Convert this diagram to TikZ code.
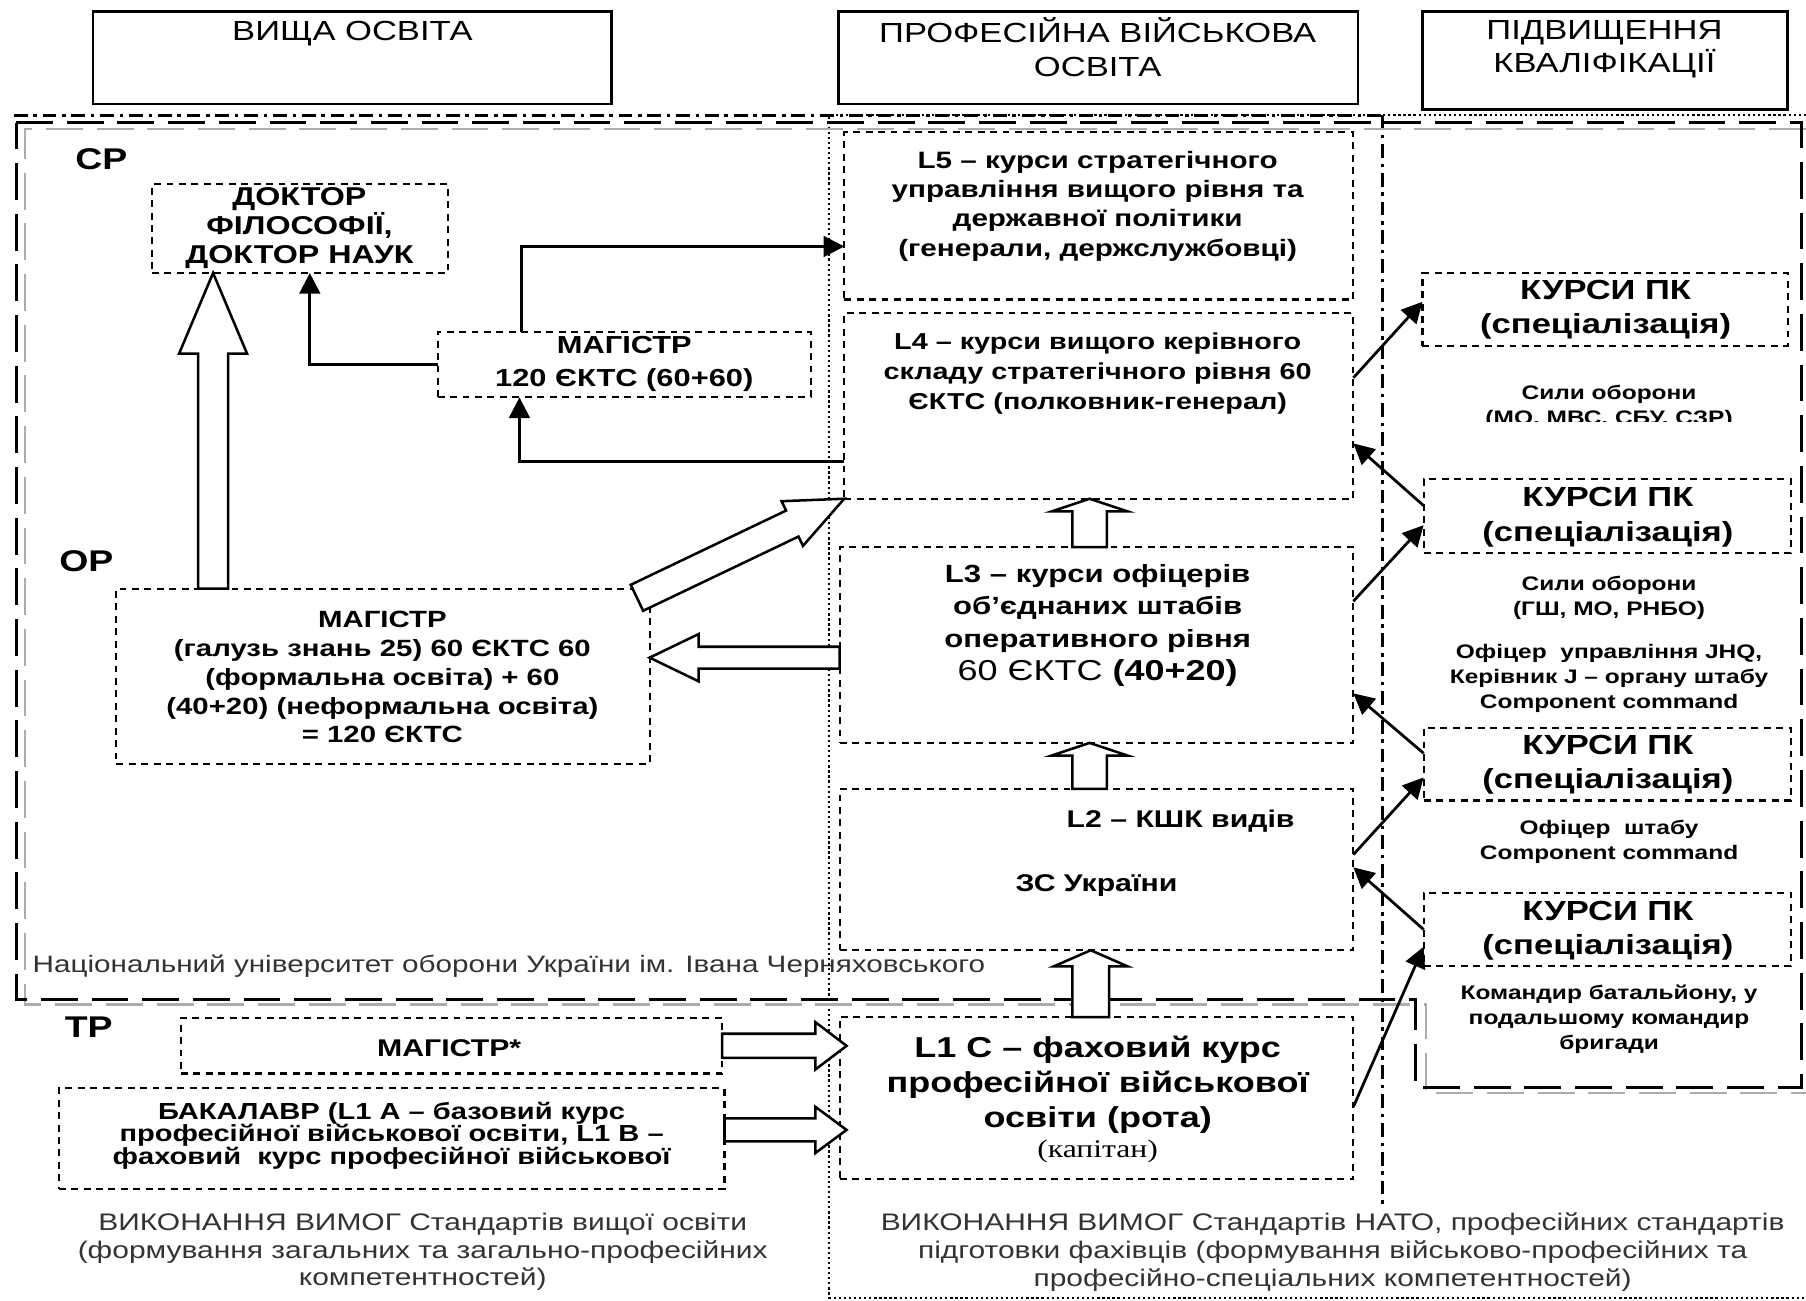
\documentclass[tikz,border=0pt]{standalone}
\usepackage{fontspec}
\setmainfont{Liberation Sans}[FakeStretch=1.25]
\newfontfamily\tnr{Liberation Serif}[FakeStretch=1.25]
\usetikzlibrary{fit,calc,arrows.meta}
\newcommand\fs[2]{\fontsize{#1}{#2}\selectfont}
% #2 start, #3 tip, #4 shaft half-width, #5 head half-width, #6 head length
\newcommand\hollowarrow[6][]{%
  \coordinate (ha) at (#2);
  \coordinate (hbt) at (#3);
  \coordinate (hh) at ($(hbt)!#6!(ha)$);
  \draw[harrow,#1] ($(ha)!#4!90:(hbt)$) -- ($(hh)!#4!90:(hbt)$) -- ($(hh)!#5!90:(hbt)$) -- (hbt)
     -- ($(hh)!#5!-90:(hbt)$) -- ($(hh)!#4!-90:(hbt)$) -- ($(ha)!#4!-90:(hbt)$) -- cycle;
}
\begin{document}
\begin{tikzpicture}[x=0.5pt,y=-0.5pt,
  boxd/.style={draw, line width=0.9pt, dash pattern=on 3pt off 2.4pt, inner sep=0, outer sep=0},
  hdr/.style={draw, line width=1pt, inner sep=0, outer sep=0},
  txt/.style={align=center, inner sep=0, text=black},
  harrow/.style={draw, line width=1.1pt, fill=white, line join=miter},
  sarrow/.style={draw, line width=1.2pt, -{Triangle[length=9pt,width=9pt]}},
  frameblack/.style={line width=1.3pt, dash pattern=on 16pt off 6pt},
  framegray/.style={line width=1pt, gray!65, dash pattern=on 16pt off 6pt},
  dashdot/.style={line width=1.3pt, dash pattern=on 6pt off 2.5pt on 1.5pt off 2.5pt},
  dotline/.style={line width=1pt, dash pattern=on 1pt off 1.2pt},
  fhdr/.style={font=\fs{12}{14.5}},
  flab/.style={font=\bfseries\fs{13}{15}},
  fbox/.style={font=\bfseries\fs{10.5}{12.7}},
  fpk/.style={font=\bfseries\fs{12}{15}},
  fsm/.style={font=\bfseries\fs{8.5}{11}},
  fbot/.style={font=\fs{10.4}{12}, text=black!80}
]
\useasboundingbox (0,0) rectangle (1568,1129);
\fill[white] (0,0) rectangle (1568,1129);

% ---------- frames ----------
\draw[dotline] (1568,100) -- (720,100) -- (720,1127) -- (1568,1127);
\draw[dashdot] (12,100) -- (1200,100);
\draw[dashdot] (1200,100) -- (1200,1045);
\draw[framegray] (1568,112) -- (22,112) -- (22,872) -- (1238,872) -- (1238,949) -- (1568,949);
\draw[frameblack] (14,106.5) -- (1564,106.5) -- (1564,944) -- (1229,944) -- (1229,868) -- (14,868) -- cycle;

% ---------- headers ----------
\node[hdr, fit={(81,10)(531,90)}] (h1) {};
\node[hdr, fit={(728,10)(1179,90)}] (h2) {};
\node[hdr, fit={(1235,10)(1552,95)}] (h3) {};
\node[txt, fhdr] (h1t) at (306,29) {ВИЩА ОСВІТА};
\node[txt, fhdr] (h2t) at (953,41) {ПРОФЕСІЙНА ВІЙСЬКОВА\\ОСВІТА};
\node[txt, fhdr] (h3t) at (1393,43) {ПІДВИЩЕННЯ\\КВАЛІФІКАЦІЇ};

% ---------- level labels ----------
\node[txt, flab] (cp) at (88,138) {СР};
\node[txt, flab] (op) at (75,487) {ОР};
\node[txt, flab] (tp) at (77,892) {ТР};

% ---------- boxes ----------
\node[boxd, fit={(132,160)(389,237)}] (doc) {};
\node[boxd, fit={(380,288)(704,345)}] (magsm) {};
\node[boxd, fit={(733,115)(1175,260)}] (l5) {};
\node[boxd, fit={(733,272)(1175,433)}] (l4) {};
\node[boxd, fit={(729,475)(1175,645)}] (l3) {};
\node[boxd, fit={(729,685)(1175,825)}] (l2) {};
\node[boxd, fit={(729,883)(1175,1024)}] (l1c) {};
\node[boxd, fit={(101,511)(564,663)}] (magop) {};
\node[boxd, fit={(157,884)(627,932)}] (magstar) {};
\node[boxd, fit={(51,945)(629,1032)}] (bak) {};
\node[boxd, fit={(1235,237)(1552,300)}] (pk1) {};
\node[boxd, fit={(1236,416)(1555,480)}] (pk2) {};
\node[boxd, fit={(1236,632)(1555,695)}] (pk3) {};
\node[boxd, fit={(1236,775)(1555,839)}] (pk4) {};

% ---------- box texts ----------
\node[txt, font=\bfseries\fs{11.2}{12.5}] (doct) at (260,198) {ДОКТОР\\ФІЛОСОФІЇ,\\ДОКТОР НАУК};
\node[txt, font=\bfseries\fs{10.7}{14}] (magsmt) at (542,316) {МАГІСТР\\120 ЄКТС (60+60)};
\node[txt, font=\bfseries\fs{10.3}{12.7}] (l5t) at (953,179) {L5 – курси стратегічного\\управління вищого рівня та\\державної політики\\(генерали, держслужбовці)};
\node[txt, font=\bfseries\fs{10}{13}] (l4t) at (953,324) {L4 – курси вищого керівного\\складу стратегічного рівня 60\\ЄКТС (полковник-генерал)};
\node[txt, font=\bfseries\fs{10.8}{14.3}] (l3t) at (953,543) {L3 – курси офіцерів\\об’єднаних штабів\\оперативного рівня\\{\fs{12.5}{14.3}\mdseries 60 ЄКТС \bfseries(40+20)}};
\node[txt, fbox] (l2ta) at (1025,713) {L2 – КШК видів};
\node[txt, fbox] (l2tb) at (952,769) {ЗС України};
\node[txt, font=\bfseries\fs{12.5}{15.2}] (l1ct) at (953,942) {L1 С – фаховий курс\\професійної військової\\освіти (рота)};
\node[txt, font=\tnr\fs{11}{12}] (l1cr) at (953,1000) {(капітан)};
\node[txt, font=\bfseries\fs{10.2}{12.5}] (magopt) at (332,588) {МАГІСТР\\(галузь знань 25) 60 ЄКТС 60\\(формальна освіта) + 60\\(40+20) (неформальна освіта)\\= 120 ЄКТС};
\node[txt, fbox] (magstart) at (390,910) {МАГІСТР*};
\node[txt, font=\bfseries\fs{10.1}{9.8}] (bakt) at (340,986) {БАКАЛАВР (L1 А – базовий курс\\професійної військової освіти, L1 В –\\фаховий\ \ курс професійної військової};
\node[txt, fpk] (pk1t) at (1394,269) {КУРСИ ПК\\(спеціалізація)};
\node[txt, fpk] (pk2t) at (1396,449) {КУРСИ ПК\\(спеціалізація)};
\node[txt, fpk] (pk3t) at (1396,664) {КУРСИ ПК\\(спеціалізація)};
\node[txt, fpk] (pk4t) at (1396,808) {КУРСИ ПК\\(спеціалізація)};

% ---------- right column notes ----------
\begin{scope}
  \clip (1240,320) rectangle (1560,366);
  \node[txt, fsm] (n1) at (1397,353) {Сили оборони\\(МО. МВС. СБУ. СЗР)};
\end{scope}
\node[txt, fsm] (n2) at (1397,519) {Сили оборони\\(ГШ, МО, РНБО)};
\node[txt, fsm] (n3) at (1397,589) {Офіцер\ \ управління JHQ,\\Керівник J – органу штабу\\Component command};
\node[txt, fsm] (n4) at (1397,731) {Офіцер\ \ штабу\\Component command};
\node[txt, fsm] (n5) at (1397,885) {Командир батальйону, у\\подальшому командир\\бригади};

% ---------- other texts ----------
\node[txt, font=\fs{10.3}{12}, text=black!80, anchor=west] (nuou) at (28,839) {Національний університет оборони України ім. Івана Черняховського};
\node[txt, fbot] (bl) at (367,1087) {ВИКОНАННЯ ВИМОГ Стандартів вищої освіти\\(формування загальних та загально-професійних\\компетентностей)};
\node[txt, fbot] (br) at (1157,1087) {ВИКОНАННЯ ВИМОГ Стандартів НАТО, професійних стандартів\\підготовки фахівців (формування військово-професійних та\\професійно-спеціальних компетентностей)};

% ---------- solid arrows ----------
\draw[sarrow] (magsm.west) -| (269,0 |- doc.south);
\draw[sarrow] (453,0 |- magsm.north) |- (l5.west |- 0,214);
\draw[sarrow] (l4.west |- 0,401) -| (451,0 |- magsm.south);

\draw[sarrow] (l4.east |- 0,328) -- (pk1.west |- 0,262);
\draw[sarrow] (pk2.west |- 0,439) -- (l4.east |- 0,385);
\draw[sarrow] (l3.east |- 0,522) -- (pk2.west |- 0,456);
\draw[sarrow] (pk3.west |- 0,654) -- (l3.east |- 0,602);
\draw[sarrow] (l2.east |- 0,742) -- (pk3.west |- 0,675);
\draw[sarrow] (pk4.west |- 0,807) -- (l2.east |- 0,753);
\draw[sarrow] (l1c.east |- 0,961) -- (pk4.west |- 0,822);

% ---------- hollow arrows ----------
\hollowarrow{185,0 |- magop.north}{185,0 |- doc.south}{6.5pt}{14.75pt}{35pt}
\hollowarrow{$(magop.north east)+(-11,8)$}{l4.south west}{6.25pt}{10.75pt}{25pt}
\hollowarrow{l3.west |- 0,571}{magop.east |- 0,571}{4.75pt}{10.25pt}{21.25pt}
\hollowarrow{946,0 |- l3.north}{946,0 |- l4.south}{7.5pt}{16.5pt}{5.5pt}
\hollowarrow{946,0 |- l2.north}{946,0 |- l3.south}{7.5pt}{16.5pt}{5.5pt}
\hollowarrow{947,0 |- l1c.north}{947,0 |- l2.south}{8pt}{16pt}{7pt}
\hollowarrow{magstar.east}{$(l1c.west |- magstar.east)+(6,0)$}{5.25pt}{10.25pt}{13.5pt}
\hollowarrow{bak.east |- 0,981}{$(l1c.west |- 0,981)+(6,0)$}{5pt}{10pt}{13.5pt}
\end{tikzpicture}
\end{document}
